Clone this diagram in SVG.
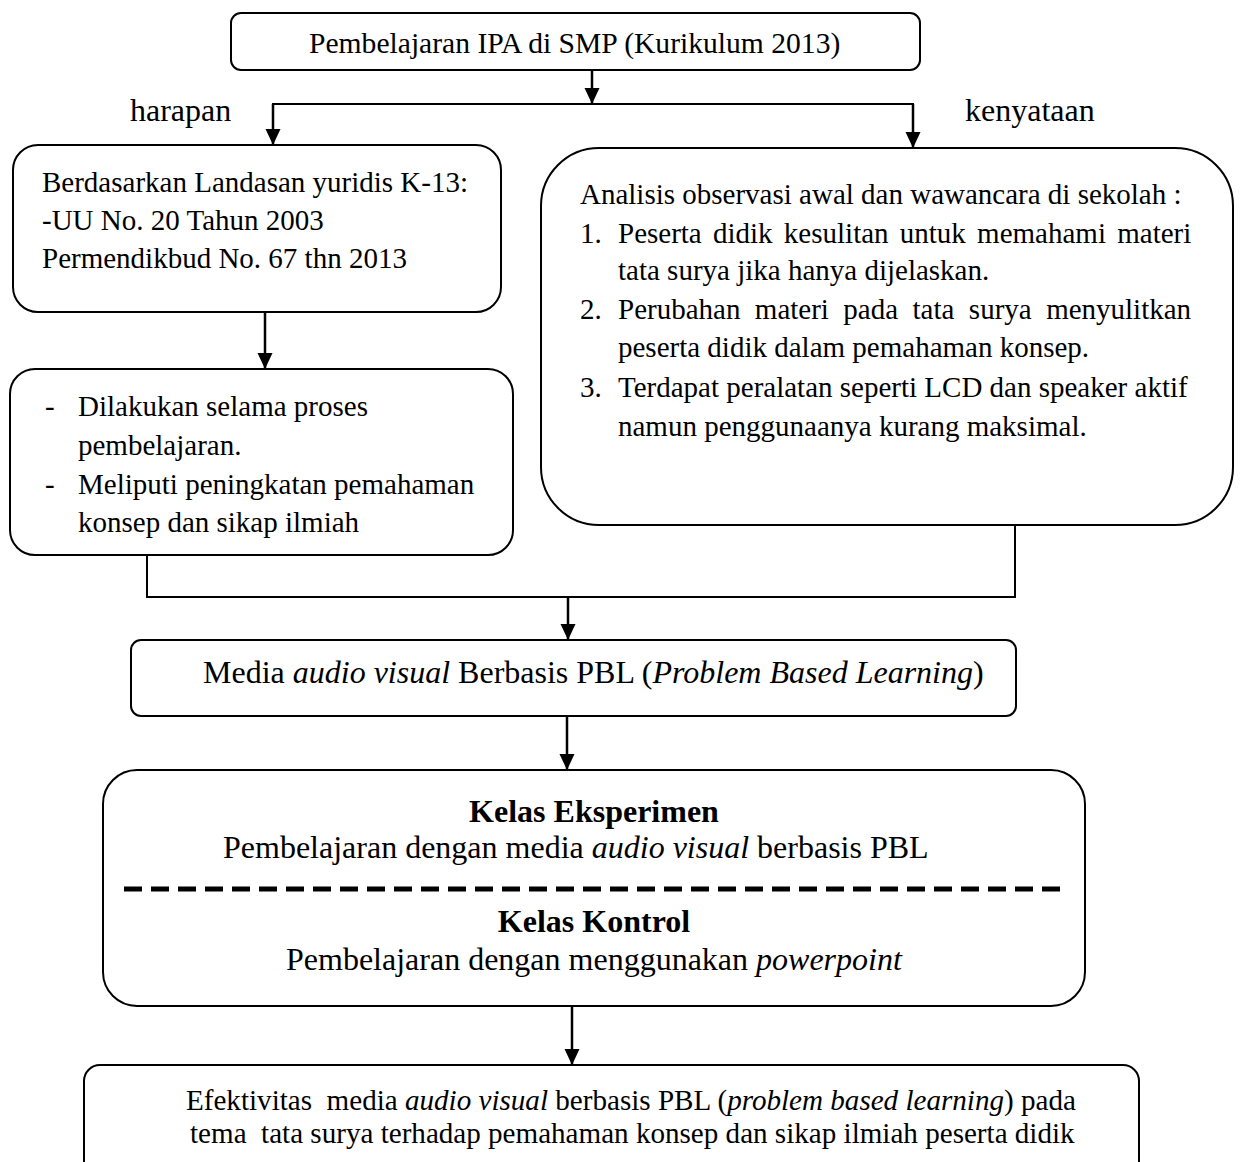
<svg xmlns="http://www.w3.org/2000/svg" width="1240" height="1162" viewBox="0 0 1240 1162">
<style>
  .box { fill: #ffffff; stroke: #000000; stroke-width: 2; }
  .conn { fill: none; stroke: #000000; stroke-width: 2.5; }
  .thin { fill: none; stroke: #000000; stroke-width: 2; }
  .dash { fill: none; stroke: #000000; stroke-width: 5; stroke-dasharray: 18 9; }
  text { font-family: "Liberation Serif", "Times New Roman", serif; fill: #000000; }
  .t30 { font-size: 29.6px; }
  .t29 { font-size: 29px; }
  .t295 { font-size: 29.1px; }
  .t32 { font-size: 32px; }
  .b { font-weight: bold; }
  .i { font-style: italic; }
</style>
<defs>
  <marker id="ah" markerUnits="userSpaceOnUse" markerWidth="16" markerHeight="16" viewBox="0 0 16 16" refX="16" refY="8" orient="auto">
    <path d="M0,0.5 L16,8 L0,15.5 z" fill="#000000"/>
  </marker>
</defs>
<rect width="1240" height="1162" fill="#ffffff"/>

<g id="connectors">
  <line class="conn" x1="592" y1="70" x2="592" y2="104" marker-end="url(#ah)"/>
  <line class="thin" x1="272" y1="104" x2="914" y2="104"/>
  <line class="conn" x1="273" y1="104" x2="273" y2="145" marker-end="url(#ah)"/>
  <line class="conn" x1="913" y1="104" x2="913" y2="148" marker-end="url(#ah)"/>
  <line class="conn" x1="265" y1="312" x2="265" y2="369" marker-end="url(#ah)"/>
  <polyline class="thin" points="147,555 147,597 1015,597 1015,525"/>
  <line class="conn" x1="568" y1="597" x2="568" y2="640" marker-end="url(#ah)"/>
  <line class="conn" x1="567" y1="716" x2="567" y2="770" marker-end="url(#ah)"/>
  <line class="conn" x1="572" y1="1006" x2="572" y2="1065" marker-end="url(#ah)"/>
</g>

<g id="labels">
  <text class="t32" x="130" y="121">harapan</text>
  <text class="t32" x="965" y="121">kenyataan</text>
</g>

<g id="node-top">
  <rect class="box" x="231" y="13" width="689" height="57" rx="10"/>
  <text class="t30" x="309" y="53">Pembelajaran IPA di SMP (Kurikulum 2013)</text>
</g>

<g id="node-harapan">
  <rect class="box" x="13" y="145" width="488" height="167" rx="25"/>
  <text class="t29" x="42" y="192">Berdasarkan Landasan yuridis K-13:</text>
  <text class="t29" x="42" y="230">-UU No. 20 Tahun 2003</text>
  <text class="t29" x="42" y="268">Permendikbud No. 67 thn 2013</text>
</g>

<g id="node-proses">
  <rect class="box" x="10" y="369" width="503" height="186" rx="25"/>
  <text class="t29" x="45" y="416">-</text>
  <text class="t29" x="78" y="416">Dilakukan selama proses</text>
  <text class="t29" x="78" y="455">pembelajaran.</text>
  <text class="t29" x="45" y="494">-</text>
  <text class="t29" x="78" y="494">Meliputi peningkatan pemahaman</text>
  <text class="t29" x="78" y="532">konsep dan sikap ilmiah</text>
</g>

<g id="node-kenyataan">
  <rect class="box" x="541" y="148" width="692" height="377" rx="58"/>
  <text class="t29" x="580" y="204">Analisis observasi awal dan wawancara di sekolah :</text>
  <text class="t29" x="580" y="243">1.</text>
  <text class="t29" x="618" y="243" word-spacing="4">Peserta didik kesulitan untuk memahami materi</text>
  <text class="t29" x="618" y="280">tata surya jika hanya dijelaskan.</text>
  <text class="t29" x="580" y="319">2.</text>
  <text class="t29" x="618" y="319" word-spacing="7.2">Perubahan materi pada tata surya menyulitkan</text>
  <text class="t29" x="618" y="357">peserta didik dalam pemahaman konsep.</text>
  <text class="t29" x="580" y="397">3.</text>
  <text class="t29" x="618" y="397">Terdapat peralatan seperti LCD dan speaker aktif</text>
  <text class="t29" x="618" y="436">namun penggunaanya kurang maksimal.</text>
</g>

<g id="node-media">
  <rect class="box" x="131" y="640" width="885" height="76" rx="10"/>
  <text class="t32" x="203" y="683">Media <tspan class="i">audio visual</tspan> Berbasis PBL (<tspan class="i">Problem Based Learning</tspan>)</text>
</g>

<g id="node-kelas">
  <rect class="box" x="103" y="770" width="982" height="236" rx="34"/>
  <text class="t32 b" x="594" y="822" text-anchor="middle">Kelas Eksperimen</text>
  <text class="t32" x="223" y="858">Pembelajaran dengan media <tspan class="i">audio visual</tspan> berbasis PBL</text>
  <line class="dash" x1="124" y1="889" x2="1060" y2="889"/>
  <text class="t32 b" x="594" y="932" text-anchor="middle">Kelas Kontrol</text>
  <text class="t32" x="286" y="970">Pembelajaran dengan menggunakan <tspan class="i">powerpoint</tspan></text>
</g>

<g id="node-efektivitas">
  <rect class="box" x="84" y="1065" width="1055" height="140" rx="16"/>
  <text class="t295" x="186" y="1110">Efektivitas&#160; media <tspan class="i">audio visual</tspan> berbasis PBL (<tspan class="i">problem based learning</tspan>) pada</text>
  <text class="t295" x="190" y="1143">tema&#160; tata surya terhadap pemahaman konsep dan sikap ilmiah peserta didik</text>
</g>
</svg>
